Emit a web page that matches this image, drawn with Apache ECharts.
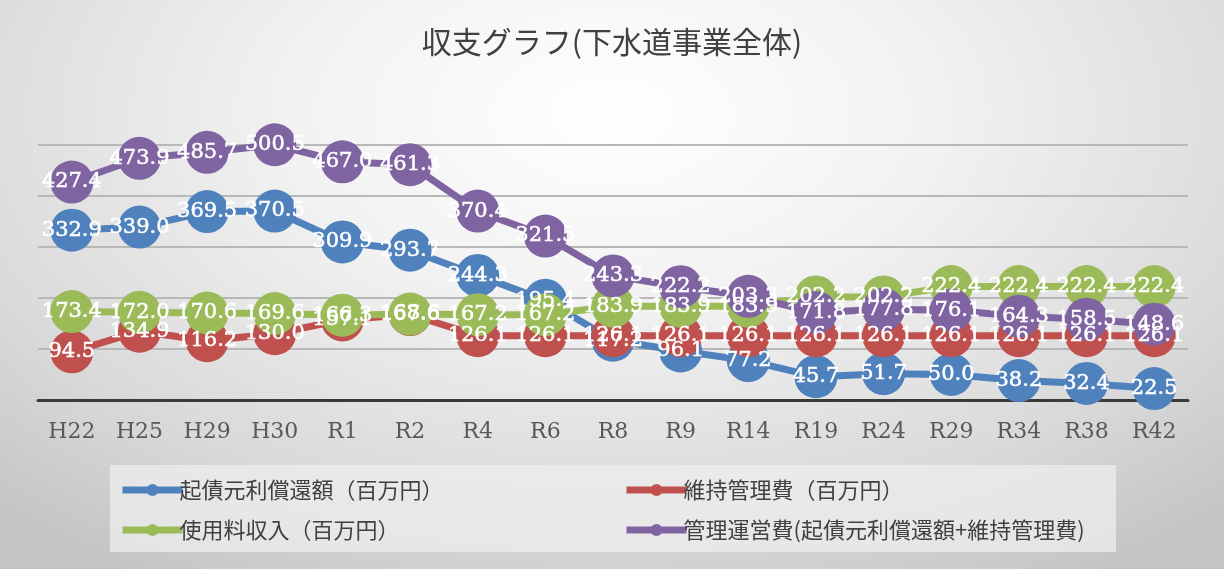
<!DOCTYPE html>
<html>
<head>
<meta charset="utf-8">
<script src="https://cdn.jsdelivr.net/npm/echarts@6/dist/echarts.min.js"></script>
<style>
  html, body { margin: 0; padding: 0; }
  body {
    width: 1224px; height: 569px; overflow: hidden;
    background: radial-gradient(ellipse 75% 95% at 50% 20%, #ffffff 0%, #f2f2f2 35%, #d9d9d9 75%, #c4c4c4 100%);
  }
  #main { width: 1224px; height: 569px; }
</style>
</head>
<body>
<div id="main"></div>
<script>
// 年度
const categories = ['H22', 'H25', 'H29', 'H30', 'R1', 'R2', 'R4', 'R6', 'R8', 'R9', 'R14', 'R19', 'R24', 'R29', 'R34', 'R38', 'R42']
// 起債元利償還額（百万円）
const repayment = [332.9, 339.0, 369.5, 370.5, 309.9, 293.7, 244.3, 195.4, 117.2, 96.1, 77.2, 45.7, 51.7, 50.0, 38.2, 32.4, 22.5]
// 維持管理費（百万円）
const maintenance = [94.5, 134.9, 116.2, 130.0, 157.1, 167.6, 126.1, 126.1, 126.1, 126.1, 126.1, 126.1, 126.1, 126.1, 126.1, 126.1, 126.1]
// 使用料収入（百万円）
const revenue = [173.4, 172.0, 170.6, 169.6, 166.3, 168.6, 167.2, 167.2, 183.9, 183.9, 183.9, 202.2, 202.2, 222.4, 222.4, 222.4, 222.4]
// 管理運営費
const operating = [427.4, 473.9, 485.7, 500.5, 467.0, 461.3, 370.4, 321.5, 243.3, 222.2, 203.3, 171.8, 177.8, 176.1, 164.3, 158.5, 148.6]

const names = [
  '起債元利償還額（百万円）',
  '維持管理費（百万円）',
  '使用料収入（百万円）',
  '管理運営費(起債元利償還額+維持管理費)'
]
const colors = ['#4F81BD', '#C0504D', '#9BBB59', '#8064A2']
const values = [repayment, maintenance, revenue, operating]

const chart = echarts.init(document.getElementById('main'))

const seriesArr = values.map((arr, i) => {
  return {
    name: names[i],
    type: 'line',
    data: arr,
    symbol: 'circle',
    symbolSize: 43,
    clip: false,
    color: colors[i],
    lineStyle: { width: 7, color: colors[i] },
    itemStyle: { color: colors[i] },
    label: {
      show: true,
      position: 'inside',
      color: '#ffffff',
      fontFamily: 'DejaVu Serif',
      fontSize: 21,
      textBorderColor: '#ffffff',
      textBorderWidth: 0.5,
      formatter: (p) => p.value.toFixed(1)
    },
    emphasis: { disabled: true },
    animation: false
  }
})

const legendCommon = {
  orient: 'vertical',
  top: 474,
  itemWidth: 60,
  itemHeight: 15,
  itemGap: 18,
  lineStyle: { width: 7 },
  textStyle: {
    fontFamily: 'Noto Sans CJK JP',
    fontSize: 22,
    color: '#404040',
    padding: [0, 0, 0, -8]
  }
}

const option = {
  animation: false,
  title: {
    text: '収支グラフ(下水道事業全体)',
    left: 'center',
    top: 22,
    textStyle: {
      fontFamily: 'Noto Sans CJK JP',
      fontSize: 30,
      fontWeight: 'normal',
      color: '#404040'
    }
  },
  graphic: [
    {
      type: 'rect',
      shape: { x: 110, y: 465, width: 1006, height: 87 },
      style: { fill: 'rgba(238,238,238,0.75)' },
      z: -1
    }
  ],
  legend: [
    Object.assign({}, legendCommon, { left: 114, data: [names[0], names[2]] }),
    Object.assign({}, legendCommon, { left: 618, data: [names[1], names[3]] })
  ],
  grid: { left: 38, right: 36, top: 145, bottom: 169 },
  xAxis: {
    type: 'category',
    data: categories,
    boundaryGap: true,
    axisLine: { lineStyle: { color: '#3a3a3a', width: 3 } },
    axisTick: { show: false },
    axisLabel: {
      fontFamily: 'DejaVu Serif',
      fontSize: 22,
      color: '#595959',
      margin: 21
    }
  },
  yAxis: {
    type: 'value',
    min: 0,
    max: 500,
    interval: 100,
    axisLabel: { show: false },
    axisLine: { show: false },
    axisTick: { show: false },
    splitLine: { lineStyle: { color: '#b8b8b8', width: 2 } }
  },
  series: seriesArr
}

chart.setOption(option)
</script>
</body>
</html>
